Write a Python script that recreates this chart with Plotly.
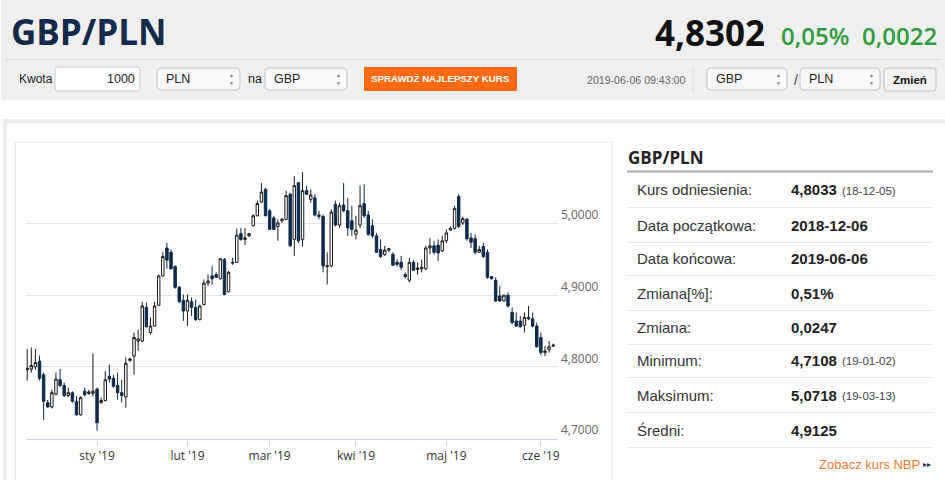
import pandas as pd
import plotly.graph_objects as go

W, H = 945, 480

# trading days shown on the chart (weekends and 25.12 / 1.01 are skipped)
holidays = ["2018-12-25", "2019-01-01"]
days = [d for d in pd.bdate_range("2018-12-06", "2019-06-06")
        if d.strftime("%Y-%m-%d") not in holidays]

open_ = [
    4.796, 4.797, 4.800, 4.808, 4.789, 4.750, 4.744, 4.762, 4.782, 4.774,
    4.760, 4.764, 4.752, 4.733, 4.766, 4.763, 4.763, 4.769, 4.750, 4.753,
    4.787, 4.784, 4.774, 4.764, 4.758, 4.809, 4.815, 4.836, 4.836, 4.883,
    4.848, 4.857, 4.886, 4.927, 4.966, 4.960, 4.940, 4.911, 4.893, 4.878,
    4.891, 4.883, 4.866, 4.887, 4.917, 4.927, 4.929, 4.923, 4.950, 4.905,
    4.946, 4.946, 4.986, 4.978, 4.983, 4.997, 5.011, 5.030, 5.048, 5.018,
    5.008, 4.996, 5.004, 5.006, 5.041, 4.978, 5.057, 4.978, 5.046, 5.034,
    5.036, 5.012, 5.010, 4.940, 4.941, 5.027, 4.998, 5.026, 5.018, 5.004,
    4.985, 4.998, 5.028, 5.012, 4.997, 4.983, 4.964, 4.957, 4.963, 4.957,
    4.946, 4.946, 4.929, 4.921, 4.946, 4.936, 4.937, 4.937, 4.966, 4.969,
    4.970, 4.962, 4.976, 4.991, 4.993, 5.038, 5.001, 5.006, 4.980, 4.979,
    4.960, 4.968, 4.960, 4.926, 4.921, 4.899, 4.892, 4.900, 4.876, 4.864,
    4.864, 4.858, 4.867, 4.867, 4.857, 4.841, 4.820, 4.824, 4.829,
]
high = [
    4.825, 4.827, 4.825, 4.816, 4.792, 4.754, 4.768, 4.792, 4.797, 4.778,
    4.771, 4.766, 4.759, 4.759, 4.771, 4.768, 4.819, 4.771, 4.757, 4.794,
    4.803, 4.789, 4.792, 4.782, 4.813, 4.813, 4.848, 4.852, 4.891, 4.890,
    4.869, 4.891, 4.929, 4.960, 4.973, 4.964, 4.942, 4.913, 4.901, 4.901,
    4.897, 4.894, 4.887, 4.922, 4.929, 4.941, 4.932, 4.952, 4.952, 4.934,
    4.952, 4.993, 4.994, 4.994, 4.987, 5.013, 5.032, 5.057, 5.050, 5.020,
    5.011, 5.006, 5.008, 5.046, 5.043, 5.066, 5.058, 5.0718, 5.053, 5.048,
    5.041, 5.018, 5.013, 4.960, 5.020, 5.032, 5.029, 5.057, 5.036, 5.025,
    5.011, 5.053, 5.055, 5.018, 5.006, 4.987, 4.978, 4.969, 4.966, 4.960,
    4.950, 4.955, 4.932, 4.952, 4.949, 4.946, 4.950, 4.969, 4.980, 4.976,
    4.978, 4.983, 4.992, 4.996, 5.025, 5.041, 5.010, 5.008, 4.987, 4.985,
    4.969, 4.973, 4.964, 4.927, 4.925, 4.913, 4.901, 4.904, 4.883, 4.876,
    4.871, 4.876, 4.885, 4.876, 4.862, 4.848, 4.829, 4.836, 4.8325,
]
low = [
    4.781, 4.792, 4.796, 4.781, 4.726, 4.743, 4.742, 4.760, 4.772, 4.758,
    4.758, 4.750, 4.732, 4.732, 4.759, 4.761, 4.759, 4.7108, 4.749, 4.752,
    4.778, 4.771, 4.754, 4.750, 4.743, 4.807, 4.789, 4.822, 4.835, 4.855,
    4.845, 4.856, 4.885, 4.926, 4.937, 4.936, 4.909, 4.889, 4.864, 4.857,
    4.871, 4.864, 4.865, 4.886, 4.913, 4.915, 4.924, 4.922, 4.900, 4.904,
    4.942, 4.945, 4.976, 4.970, 4.981, 4.996, 5.010, 5.029, 5.010, 4.991,
    4.991, 4.976, 5.001, 5.005, 4.968, 4.955, 4.973, 4.968, 5.040, 5.029,
    5.010, 5.006, 4.932, 4.915, 4.939, 4.996, 4.994, 5.016, 4.983, 4.983,
    4.978, 4.994, 5.008, 4.983, 4.980, 4.959, 4.952, 4.955, 4.960, 4.941,
    4.940, 4.935, 4.923, 4.918, 4.934, 4.929, 4.932, 4.935, 4.957, 4.957,
    4.948, 4.960, 4.973, 4.990, 4.992, 4.994, 4.998, 4.976, 4.966, 4.957,
    4.959, 4.952, 4.923, 4.922, 4.891, 4.891, 4.891, 4.883, 4.859, 4.856,
    4.855, 4.848, 4.865, 4.855, 4.827, 4.816, 4.815, 4.820, 4.828,
]
close = [
    4.798, 4.802, 4.806, 4.784, 4.752, 4.744, 4.764, 4.783, 4.774, 4.760,
    4.764, 4.752, 4.733, 4.757, 4.761, 4.765, 4.766, 4.722, 4.753, 4.782,
    4.783, 4.773, 4.764, 4.760, 4.805, 4.811, 4.841, 4.839, 4.885, 4.856,
    4.857, 4.885, 4.927, 4.954, 4.949, 4.937, 4.911, 4.891, 4.878, 4.893,
    4.883, 4.866, 4.885, 4.917, 4.920, 4.923, 4.925, 4.951, 4.901, 4.932,
    4.945, 4.984, 4.978, 4.980, 4.986, 5.011, 5.028, 5.044, 5.011, 4.992,
    4.992, 5.001, 5.006, 5.039, 4.969, 5.053, 4.976, 5.046, 5.041, 5.040,
    5.012, 5.010, 4.941, 4.941, 5.016, 4.998, 5.025, 5.018, 4.994, 4.992,
    4.991, 5.025, 5.011, 4.985, 4.983, 4.960, 4.954, 4.963, 4.965, 4.942,
    4.943, 4.939, 4.926, 4.946, 4.935, 4.938, 4.939, 4.966, 4.969, 4.960,
    4.959, 4.976, 4.987, 4.993, 5.021, 4.996, 5.007, 4.979, 4.974, 4.960,
    4.964, 4.954, 4.925, 4.923, 4.892, 4.892, 4.900, 4.885, 4.862, 4.857,
    4.856, 4.869, 4.869, 4.857, 4.828, 4.820, 4.822, 4.828, 4.8302,
]

month_ticks = ["2019-01-02", "2019-02-01", "2019-03-01", "2019-04-01", "2019-05-01", "2019-06-03"]
month_labels = ["sty '19", "lut '19", "mar '19", "kwi '19", "maj '19", "cze '19"]
price_ticks = [4.7, 4.8, 4.9, 5.0, 5.1]
price_labels = ["4,7000", "4,8000", "4,9000", "5,0000", ""]

row_labels = ["Kurs odniesienia:", "Data początkowa:", "Data końcowa:", "Zmiana[%]:",
              "Zmiana:", "Minimum:", "Maksimum:", "Średni:"]
row_values = ["4,8033", "2018-12-06", "2019-06-06", "0,51%", "0,0247", "4,7108", "5,0718", "4,9125"]
row_notes = ["(18-12-05)", "", "", "", "", "(19-01-02)", "(19-03-13)", ""]

NAVY = "#0f2a4a"
ARIAL = "Liberation Sans, Arial, sans-serif"
OPEN = "Open Sans, sans-serif"


def px(x):
    return x / W


def py(y):
    return 1 - y / H


shapes = []
annotations = []


def box(x0, y0, x1, y1, fill, line=None, lw=1, r=0):
    if r:
        rx, ry = r / W, r / H
        a, b, c, d = px(x0), py(y0), px(x1), py(y1)
        path = (f"M{a + rx},{b} L{c - rx},{b} Q{c},{b} {c},{b - ry} L{c},{d + ry} "
                f"Q{c},{d} {c - rx},{d} L{a + rx},{d} Q{a},{d} {a},{d + ry} "
                f"L{a},{b - ry} Q{a},{b} {a + rx},{b} Z")
        shapes.append(dict(type="path", xref="paper", yref="paper", path=path,
                           fillcolor=fill, line=dict(color=line or fill, width=lw if line else 0),
                           layer="below"))
    else:
        shapes.append(dict(type="rect", xref="paper", yref="paper",
                           x0=px(x0), y0=py(y0), x1=px(x1), y1=py(y1),
                           fillcolor=fill, line=dict(color=line or fill, width=lw if line else 0),
                           layer="below"))


def hline(x0, x1, y, color, width=1):
    shapes.append(dict(type="line", xref="paper", yref="paper", x0=px(x0), x1=px(x1),
                       y0=py(y), y1=py(y), line=dict(color=color, width=width), layer="below"))


def text(x, y, s, size, color, family=ARIAL, anchor="left", weight=None):
    f = dict(size=size, color=color, family=family)
    if weight:
        f["weight"] = weight
    annotations.append(dict(xref="paper", yref="paper", x=px(x), y=py(y), text=s,
                            showarrow=False, xanchor=anchor, yanchor="middle", font=f,
                            borderpad=0))


def select(x0, x1, label):
    box(x0, 68, x1, 90, "#f8f8f8", "#c2c2c2", 1, r=4)
    text(x0 + 8, 79, label, 12.5, "#222", ARIAL)
    text(x1 - 9, 75.5, "▲", 5, "#777", ARIAL, "center")
    text(x1 - 9, 82.5, "▼", 5, "#777", ARIAL, "center")


# header band
box(1, 0, 945, 100, "#efefef")
hline(5, 940, 59.5, "#d6d6d6")
text(10, 32, "GBP/PLN", 35, "#132a4a", OPEN, weight=700)
text(766, 33, "4,8302", 35, "#111", OPEN, "right", weight=700)
text(850, 36, "0,05%", 24, "#2f9c3d", OPEN, "right", weight=600)
text(938, 36, "0,0022", 24, "#2f9c3d", OPEN, "right", weight=600)

# converter controls
text(18, 79, "Kwota", 12, "#222", ARIAL)
box(55, 67, 140, 91, "#ffffff", "#c8c8c8", 1, r=3)
text(136, 79, "1000", 12.5, "#222", ARIAL, "right")
select(157, 240, "PLN")
text(247, 79, "na", 12.5, "#222", ARIAL)
select(265, 347, "GBP")
box(364, 67, 517, 91, "#ff6a13")
text(440.5, 79, "SPRAWDŹ NAJLEPSZY KURS", 9.7, "#ffffff", ARIAL, "center", weight=700)
text(686, 80, "2019-06-06 09:43:00", 10.6, "#666", ARIAL, "right")
shapes.append(dict(type="line", xref="paper", yref="paper", x0=px(693), x1=px(693),
                   y0=py(66), y1=py(93), line=dict(color="#d8d8d8", width=1)))
select(707, 787, "GBP")
text(793, 80, "/", 14, "#444", ARIAL)
select(800, 880, "PLN")
box(884, 68, 936, 91, "#f2f2f2", "#bdbdbd", 1, r=3)
text(910, 79.5, "Zmień", 11.5, "#111", ARIAL, "center", weight=700)

# content frame and chart box
shapes.append(dict(type="rect", xref="paper", yref="paper", x0=px(5), x1=px(955),
                   y0=py(121), y1=py(495), line=dict(color="#ededed", width=4),
                   fillcolor="rgba(0,0,0,0)", layer="below"))
shapes.append(dict(type="rect", xref="paper", yref="paper", x0=px(15.5), x1=px(612),
                   y0=py(142), y1=py(490), line=dict(color="#e4e4e4", width=1),
                   fillcolor="rgba(0,0,0,0)", layer="below"))

# side table
text(627, 157, "GBP/PLN", 17, "#222", OPEN, weight=700)
hline(627, 933, 171.5, "#a9a9a9", 2)
row_y = [190, 225, 258, 293, 327, 360, 395, 430]
for yy, lab, val, note in zip(row_y, row_labels, row_values, row_notes):
    text(636, yy, lab, 15, "#333", ARIAL)
    text(790, yy, val, 15, "#222", ARIAL, weight=700)
    if note:
        text(841, yy + 1, note, 11.5, "#444", ARIAL)
    hline(627, 933, yy + 17.5, "#e8e8e8")
text(921, 464, "Zobacz kurs NBP", 13, "#f47a30", ARIAL, "right")
text(927, 464.5, "▸▸", 8, "#1d3050", ARIAL, "center")

fig = go.Figure(go.Candlestick(
    x=days, open=open_, high=high, low=low, close=close,
    increasing=dict(line=dict(color="#1a1a1a", width=1), fillcolor="#ffffff"),
    decreasing=dict(line=dict(color=NAVY, width=1), fillcolor=NAVY),
    whiskerwidth=0, hoverinfo="skip",
))

fig.update_layout(
    width=W, height=H, margin=dict(l=0, r=0, t=0, b=0, pad=0, autoexpand=False),
    paper_bgcolor="white", plot_bgcolor="white",
    showlegend=False, separators=", ", boxgap=0.15,
    shapes=shapes, annotations=annotations,
    xaxis=dict(
        domain=[px(26), px(558)], type="date", automargin=False,
        range=["2018-12-05 17:00", "2019-06-07 04:00"],
        rangebreaks=[dict(bounds=["sat", "mon"]), dict(values=holidays)],
        rangeslider=dict(visible=False),
        tickvals=month_ticks, ticktext=month_labels,
        showgrid=False, showline=True, linecolor="#ccd6eb", linewidth=1,
        ticks="outside", ticklen=6, tickcolor="#ccd6eb",
        tickfont=dict(family=OPEN, size=12, color="#333"),
        zeroline=False, fixedrange=True,
    ),
    yaxis=dict(
        domain=[py(438.5), py(152)], range=[4.7, 5.1], automargin=False,
        tickvals=price_ticks, ticktext=price_labels,
        side="right", ticks="", ticklabelposition="outside top",
        ticklabelstandoff=2,
        showgrid=True, gridcolor="#e3e3e3", gridwidth=1, zeroline=False,
        tickfont=dict(family=OPEN, size=12, color="#666"), fixedrange=True,
    ),
)

# the page body keeps its default 8px margin otherwise
fig.write_html("out.html", config=dict(displayModeBar=False),
               post_script="document.body.style.margin='0';")
